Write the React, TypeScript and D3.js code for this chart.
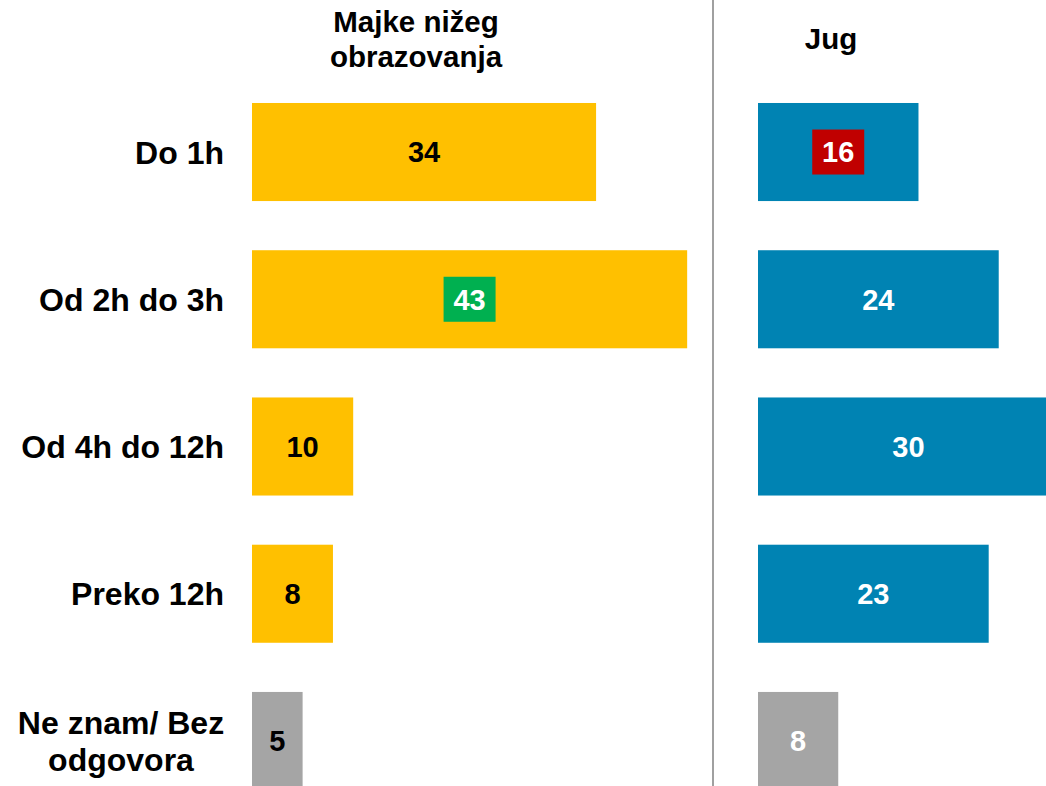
import React from "react";
import * as d3 from "d3";

const categories = ["Do 1h", "Od 2h do 3h", "Od 4h do 12h", "Preko 12h", "Ne znam/ Bez odgovora"];
const leftValues = [34, 43, 10, 8, 5];
const rightValues = [16, 24, 30, 23, 8];
const leftTitle = ["Majke nižeg", "obrazovanja"];
const rightTitle = ["Jug"];
const leftHighlight = [null, "high", null, null, null];
const rightHighlight = ["low", null, null, null, null];

const W = 1046;
const H = 786;
const FONT = "'Liberation Sans', Arial, Helvetica, sans-serif";
const YELLOW = "#FFC000";
const BLUE = "#0083B3";
const GRAY = "#A5A5A5";
const GREEN = "#00B050";
const RED = "#C00000";

export default function App() {
  const y = d3
    .scaleBand<string>()
    .domain(categories)
    .range([78.4, 814.6])
    .paddingInner(0.334)
    .paddingOuter(0.167);

  const xL = d3.scaleLinear().domain([0, 100]).range([252, 252 + 1012]);
  const xR = d3.scaleLinear().domain([0, 100]).range([758, 758 + 1003]);

  const lastIdx = categories.length - 1;

  const renderPanel = (
    values: number[],
    x: d3.ScaleLinear<number, number>,
    color: string,
    textColor: string,
    lastTextColor: string,
    highlight: (string | null)[]
  ) =>
    values.map((v, i) => {
      const cat = categories[i];
      const y0 = y(cat)!;
      const bw = y.bandwidth();
      const x0 = x(0);
      const x1 = x(v);
      const cx = (x0 + x1) / 2;
      const cy = y0 + bw / 2;
      const isLast = i === lastIdx;
      const h = highlight[i];
      const fill = isLast ? GRAY : color;
      let tc = isLast ? lastTextColor : textColor;
      if (h) tc = "#FFFFFF";
      return (
        <g key={cat}>
          <rect x={x0} y={y0} width={x1 - x0} height={bw} fill={fill} />
          {h && (
            <rect
              x={cx - 26}
              y={cy - 22.5}
              width={52}
              height={45}
              fill={h === "high" ? GREEN : RED}
            />
          )}
          <text
            x={cx}
            y={cy}
            dy="0.36em"
            textAnchor="middle"
            fontFamily={FONT}
            fontWeight="bold"
            fontSize={29}
            fill={tc}
          >
            {v}
          </text>
        </g>
      );
    });

  return (
    <svg
      width={W}
      height={H}
      style={{ position: "absolute", left: 0, top: 0, background: "#fff" }}
    >
      <rect x={0} y={0} width={W} height={H} fill="#fff" />
      {leftTitle.map((t, i) => (
        <text
          key={t}
          x={416}
          y={32 + i * 35}
          textAnchor="middle"
          fontFamily={FONT}
          fontWeight="bold"
          fontSize={29.5}
          fill="#000"
        >
          {t}
        </text>
      ))}
      {rightTitle.map((t) => (
        <text
          key={t}
          x={831}
          y={49}
          textAnchor="middle"
          fontFamily={FONT}
          fontWeight="bold"
          fontSize={29.5}
          fill="#000"
        >
          {t}
        </text>
      ))}
      {categories.map((c, i) => {
        const cy = y(c)! + y.bandwidth() / 2;
        if (i === lastIdx) {
          const words = ["Ne znam/ Bez", "odgovora"];
          return (
            <g key={c}>
              {words.map((w, j) => (
                <text
                  key={w}
                  x={121}
                  y={cy + (j - 0.5) * 37}
                  dy="0.36em"
                  textAnchor="middle"
                  fontFamily={FONT}
                  fontWeight="bold"
                  fontSize={32}
                  fill="#000"
                >
                  {w}
                </text>
              ))}
            </g>
          );
        }
        return (
          <text
            key={c}
            x={224}
            y={cy}
            dy="0.36em"
            textAnchor="end"
            fontFamily={FONT}
            fontWeight="bold"
            fontSize={32}
            fill="#000"
          >
            {c}
          </text>
        );
      })}
      {renderPanel(leftValues, xL, YELLOW, "#000", "#000", leftHighlight)}
      {renderPanel(rightValues, xR, BLUE, "#FFFFFF", "#FFFFFF", rightHighlight)}
      <line x1={713} x2={713} y1={0} y2={H} stroke="#808080" strokeWidth={1.5} />
    </svg>
  );
}
